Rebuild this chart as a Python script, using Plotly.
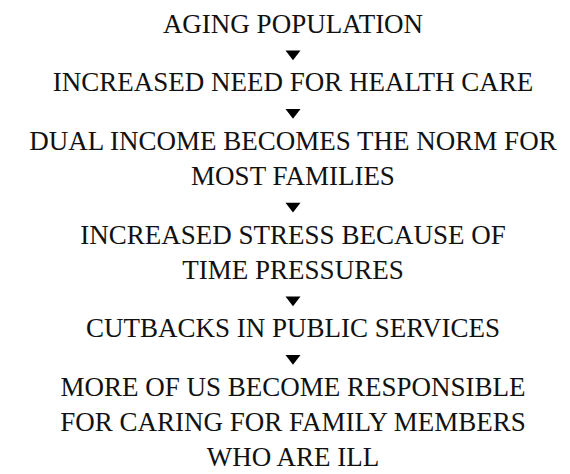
import plotly.graph_objects as go

# Flow steps (each inner list = lines of one step)
steps = [
    ["AGING POPULATION"],
    ["INCREASED NEED FOR HEALTH CARE"],
    ["DUAL INCOME BECOMES THE NORM FOR", "MOST FAMILIES"],
    ["INCREASED STRESS BECAUSE OF", "TIME PRESSURES"],
    ["CUTBACKS IN PUBLIC SERVICES"],
    ["MORE OF US BECOME RESPONSIBLE", "FOR CARING FOR FAMILY MEMBERS", "WHO ARE ILL"],
]

W, H = 570, 474
FONT_SIZE = 27
LINE = FONT_SIZE * 1.3
TOP = 18
GAP = 29.3
ARROW_SIZE = 13
CX = W / 2

text_y, text_str = [], []
arrow_y = []
y = TOP
for i, lines in enumerate(steps):
    n = len(lines)
    centers = [y + k * LINE for k in range(n)]
    text_y.append(sum(centers) / n)
    text_str.append("<br>".join(lines))
    last = centers[-1]
    if i < len(steps) - 1:
        a = last + GAP
        arrow_y.append(a - ARROW_SIZE / 8)
        y = a + GAP

fig = go.Figure()
fig.add_trace(go.Scatter(
    x=[CX] * len(text_y), y=text_y, text=text_str, mode="text",
    textposition="middle center",
    textfont=dict(family="Liberation Serif, Times New Roman, serif", size=FONT_SIZE, color="#111111"),
    hoverinfo="skip", showlegend=False,
))
fig.add_trace(go.Scatter(
    x=[CX] * len(arrow_y), y=arrow_y, mode="markers",
    marker=dict(symbol="triangle-down", size=ARROW_SIZE, color="#000000", line=dict(width=0)),
    hoverinfo="skip", showlegend=False,
))
fig.update_layout(
    width=W, height=H, margin=dict(l=0, r=0, t=0, b=0),
    paper_bgcolor="white", plot_bgcolor="white",
    xaxis=dict(range=[0, W], visible=False, fixedrange=True),
    yaxis=dict(range=[H, 0], visible=False, fixedrange=True),
)
fig.write_html("out.html")
